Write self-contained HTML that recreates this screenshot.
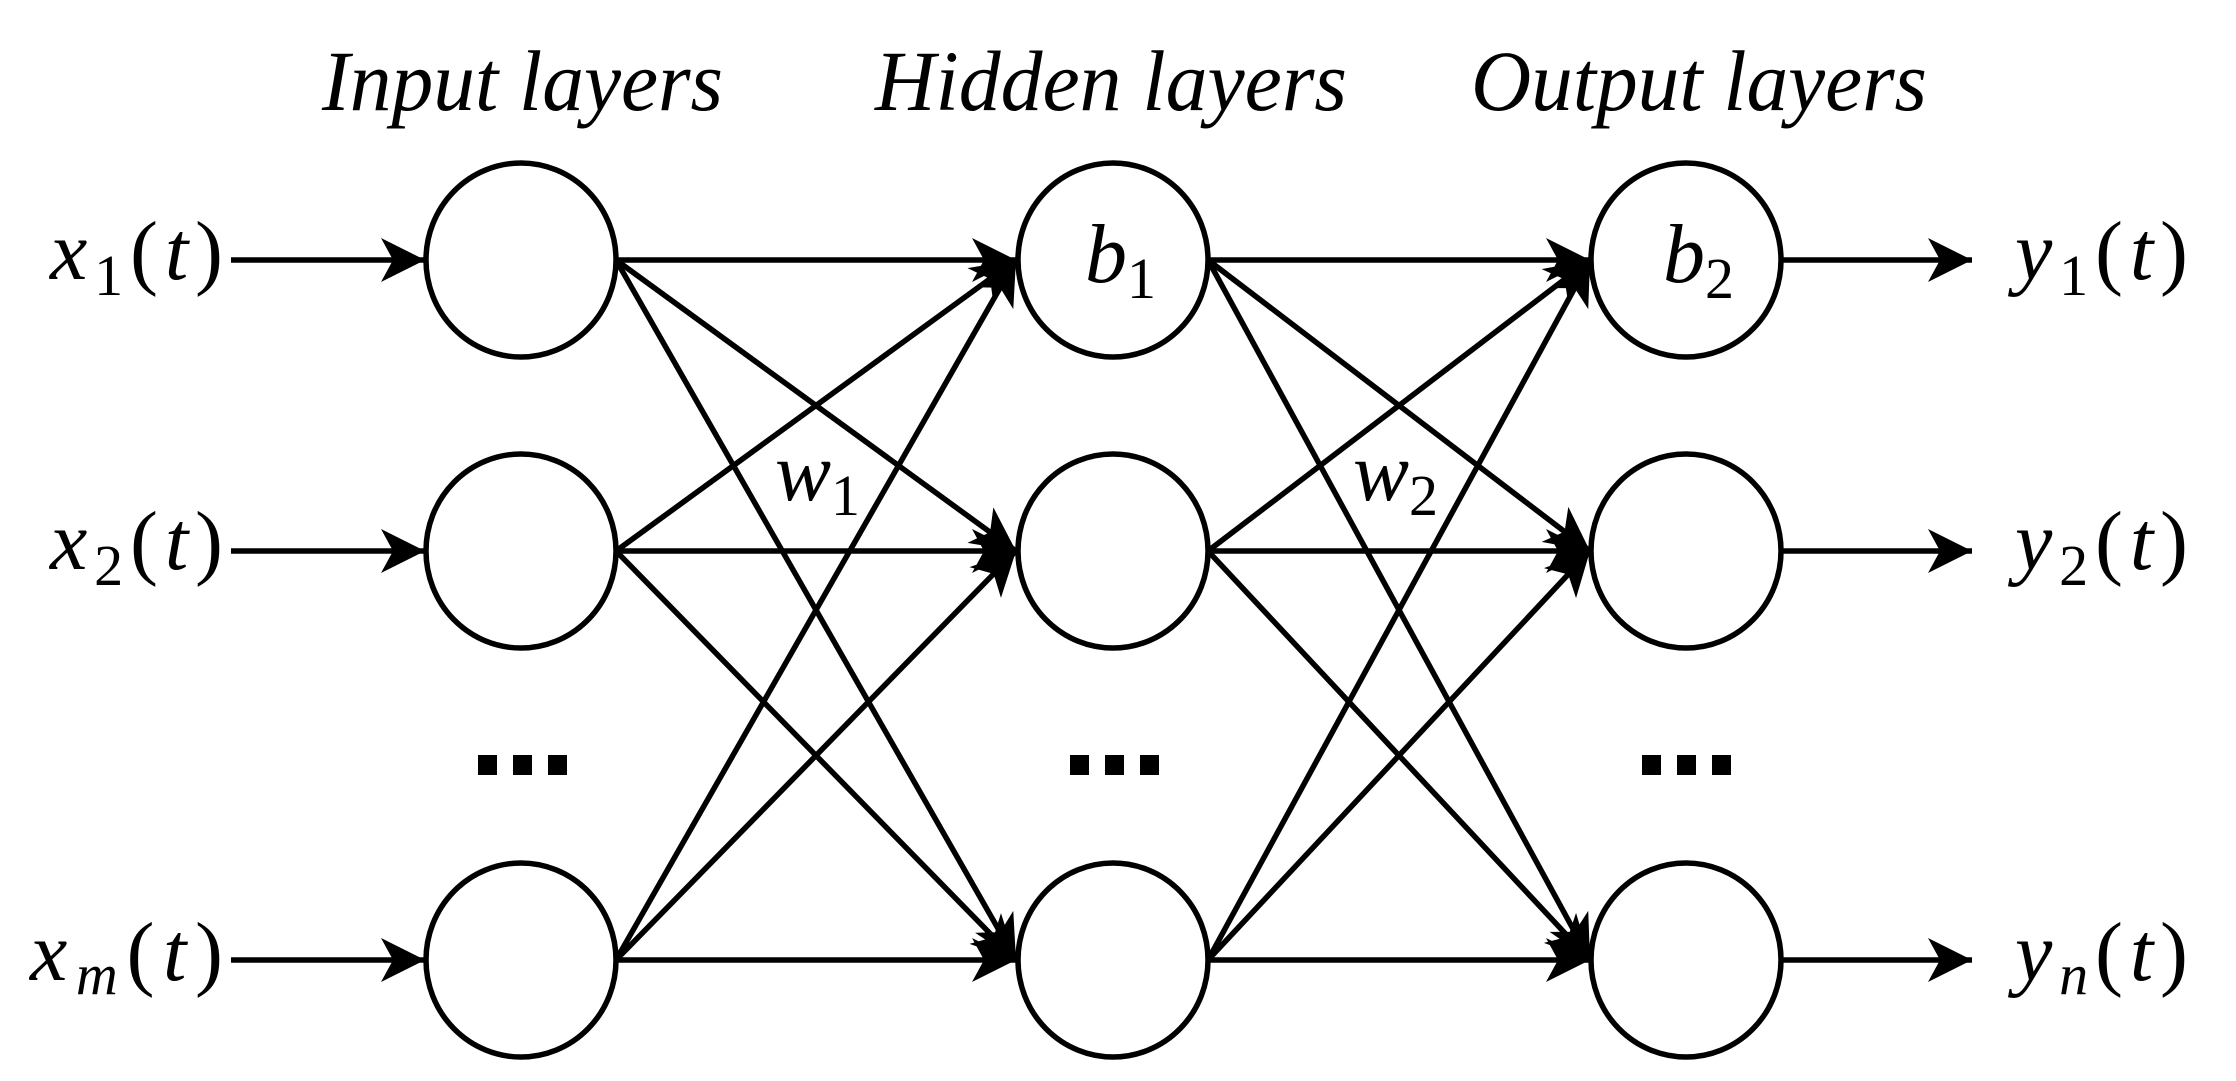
<!DOCTYPE html>
<html><head><meta charset="utf-8"><style>
html,body{margin:0;padding:0;background:#fff;}
svg{display:block;}
text{font-family:"Liberation Serif",serif;fill:#000;}
</style></head><body>
<svg width="2236" height="1081" viewBox="0 0 2236 1081" xmlns="http://www.w3.org/2000/svg">
<defs>
<marker id="a" markerUnits="userSpaceOnUse" markerWidth="50" markerHeight="50" viewBox="-46 -25 50 50" refX="0" refY="0" orient="auto">
<path d="M0,0 L-44,-22 L-32,0 L-44,22 Z" fill="#000"/>
</marker>
</defs>
<g font-style="italic" font-size="86">
<text x="322" y="110" textLength="401" lengthAdjust="spacingAndGlyphs">Input layers</text>
<text x="875" y="110" textLength="472" lengthAdjust="spacingAndGlyphs">Hidden layers</text>
<text x="1471" y="110" textLength="456" lengthAdjust="spacingAndGlyphs">Output layers</text>
</g>
<g stroke="#000" stroke-width="5.5" fill="none">
<line x1="231" y1="260" x2="425" y2="260" marker-end="url(#a)"/>
<line x1="231" y1="551" x2="425" y2="551" marker-end="url(#a)"/>
<line x1="231" y1="960" x2="425" y2="960" marker-end="url(#a)"/>
<line x1="616" y1="260" x2="1016" y2="260" marker-end="url(#a)"/>
<line x1="616" y1="260" x2="1016" y2="551" marker-end="url(#a)"/>
<line x1="616" y1="260" x2="1016" y2="960" marker-end="url(#a)"/>
<line x1="616" y1="551" x2="1016" y2="260" marker-end="url(#a)"/>
<line x1="616" y1="551" x2="1016" y2="551" marker-end="url(#a)"/>
<line x1="616" y1="551" x2="1016" y2="960" marker-end="url(#a)"/>
<line x1="616" y1="960" x2="1016" y2="260" marker-end="url(#a)"/>
<line x1="616" y1="960" x2="1016" y2="551" marker-end="url(#a)"/>
<line x1="616" y1="960" x2="1016" y2="960" marker-end="url(#a)"/>
<line x1="1208" y1="260" x2="1590" y2="260" marker-end="url(#a)"/>
<line x1="1208" y1="260" x2="1590" y2="551" marker-end="url(#a)"/>
<line x1="1208" y1="260" x2="1590" y2="960" marker-end="url(#a)"/>
<line x1="1208" y1="551" x2="1590" y2="260" marker-end="url(#a)"/>
<line x1="1208" y1="551" x2="1590" y2="551" marker-end="url(#a)"/>
<line x1="1208" y1="551" x2="1590" y2="960" marker-end="url(#a)"/>
<line x1="1208" y1="960" x2="1590" y2="260" marker-end="url(#a)"/>
<line x1="1208" y1="960" x2="1590" y2="551" marker-end="url(#a)"/>
<line x1="1208" y1="960" x2="1590" y2="960" marker-end="url(#a)"/>
<line x1="1780" y1="260" x2="1972" y2="260" marker-end="url(#a)"/>
<line x1="1780" y1="551" x2="1972" y2="551" marker-end="url(#a)"/>
<line x1="1780" y1="960" x2="1972" y2="960" marker-end="url(#a)"/>
</g>
<g stroke="#000" stroke-width="5.5" fill="#fff">
<ellipse cx="521" cy="260" rx="95" ry="97"/>
<ellipse cx="521" cy="551" rx="95" ry="97"/>
<ellipse cx="521" cy="960" rx="95" ry="97"/>
<ellipse cx="1113" cy="260" rx="95" ry="97"/>
<ellipse cx="1113" cy="551" rx="95" ry="97"/>
<ellipse cx="1113" cy="960" rx="95" ry="97"/>
<ellipse cx="1686" cy="260" rx="95" ry="97"/>
<ellipse cx="1686" cy="551" rx="95" ry="97"/>
<ellipse cx="1686" cy="960" rx="95" ry="97"/>
</g>
<g fill="#000">
<rect x="478" y="755" width="19" height="20"/><rect x="513" y="755" width="19" height="20"/><rect x="548" y="755" width="19" height="20"/>
<rect x="1070" y="755" width="19" height="20"/><rect x="1105" y="755" width="19" height="20"/><rect x="1140" y="755" width="19" height="20"/>
<rect x="1642" y="755" width="19" height="20"/><rect x="1677" y="755" width="19" height="20"/><rect x="1712" y="755" width="19" height="20"/>
</g>
<g font-size="84">
<text x="50" y="279" textLength="173" lengthAdjust="spacing"><tspan font-style="italic">x</tspan><tspan font-size="58" dy="16">1</tspan><tspan dy="-16">(</tspan><tspan font-style="italic">t</tspan>)</text>
<text x="50" y="569" textLength="173" lengthAdjust="spacing"><tspan font-style="italic">x</tspan><tspan font-size="58" dy="16">2</tspan><tspan dy="-16">(</tspan><tspan font-style="italic">t</tspan>)</text>
<text x="30" y="980" textLength="193" lengthAdjust="spacing"><tspan font-style="italic">x</tspan><tspan font-size="58" font-style="italic" dy="14">m</tspan><tspan dy="-14">(</tspan><tspan font-style="italic">t</tspan>)</text>
<text x="2015" y="279" textLength="173" lengthAdjust="spacing"><tspan font-style="italic">y</tspan><tspan font-size="58" dy="16">1</tspan><tspan dy="-16">(</tspan><tspan font-style="italic">t</tspan>)</text>
<text x="2015" y="569" textLength="173" lengthAdjust="spacing"><tspan font-style="italic">y</tspan><tspan font-size="58" dy="16">2</tspan><tspan dy="-16">(</tspan><tspan font-style="italic">t</tspan>)</text>
<text x="2015" y="980" textLength="173" lengthAdjust="spacing"><tspan font-style="italic">y</tspan><tspan font-size="58" font-style="italic" dy="14">n</tspan><tspan dy="-14">(</tspan><tspan font-style="italic">t</tspan>)</text>
<text x="1085" y="282"><tspan font-style="italic">b</tspan><tspan font-size="58" dy="16">1</tspan></text>
<text x="1663" y="282"><tspan font-style="italic">b</tspan><tspan font-size="58" dy="16">2</tspan></text>
<text x="775" y="500"><tspan font-style="italic">w</tspan><tspan font-size="58" dy="15">1</tspan></text>
<text x="1353" y="500"><tspan font-style="italic">w</tspan><tspan font-size="58" dy="15">2</tspan></text>
</g>
</svg>
</body></html>
